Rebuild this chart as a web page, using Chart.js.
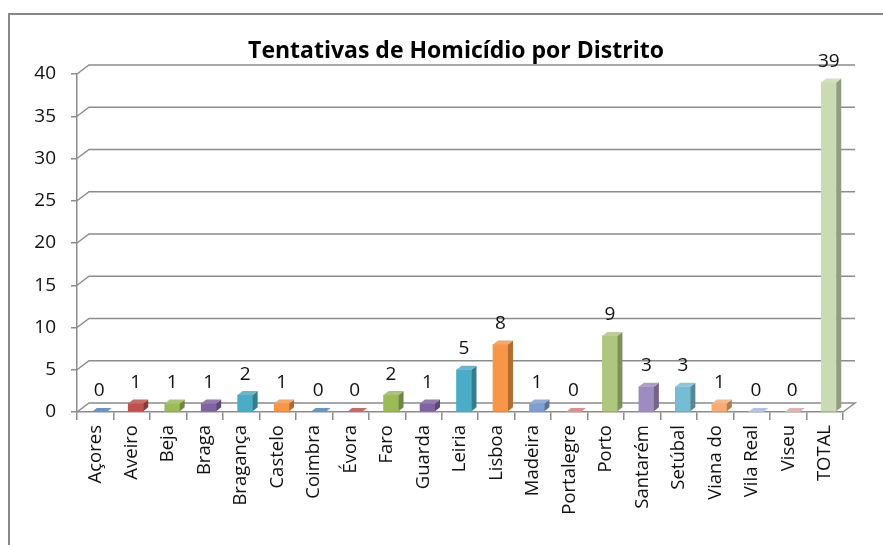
<!DOCTYPE html>
<html>
<head>
<meta charset="utf-8">
<script src="https://cdn.jsdelivr.net/npm/chart.js@4.4.1/dist/chart.umd.min.js"></script>
<style>
  html, body { margin: 0; padding: 0; background: #fff; }
  canvas { display: block; }
</style>
</head>
<body>
<canvas id="chart" width="883" height="545"></canvas>
<script>
// Chart data
const districts = ['Açores', 'Aveiro', 'Beja', 'Braga', 'Bragança', 'Castelo', 'Coimbra', 'Évora',
  'Faro', 'Guarda', 'Leiria', 'Lisboa', 'Madeira', 'Portalegre', 'Porto', 'Santarém', 'Setúbal',
  'Viana do', 'Vila Real', 'Viseu', 'TOTAL'];
const attempts = [0, 1, 1, 1, 2, 1, 0, 0, 2, 1, 5, 8, 1, 0, 9, 3, 3, 1, 0, 0, 39];
const yTicks = [0, 5, 10, 15, 20, 25, 30, 35, 40];
const chartTitle = 'Tentativas de Homicídio por Distrito';

const barColors = ['#4F81BD', '#C0504D', '#9BBB59', '#8064A2', '#4BACC6', '#F79646',
  '#4F81BD', '#C0504D', '#9BBB59', '#8064A2', '#4BACC6', '#F79646',
  '#7F9ED2', '#D27F7D', '#AEC77E', '#9F8CBE', '#74BDD3', '#F9AB72',
  '#A5B9DD', '#D9A6A5', '#CADAB2'];

const FONT = '"Open Sans"';
const GRID = '#8c8c8c';
const DEPTH_X = 12, DEPTH_Y = -9;   // back wall offset
const BAR_DX = 5, BAR_DY = -4;      // bar side/top depth

function shade(hex, f) {
  const n = parseInt(hex.slice(1), 16);
  const ch = [(n >> 16) & 255, (n >> 8) & 255, n & 255].map((c) =>
    f < 1 ? Math.round(c * f) : Math.round(c + (255 - c) * (f - 1)));
  return 'rgb(' + ch.join(',') + ')';
}

// Back wall, floor, bar sides and labels
const threeD = {
  id: 'threeD',
  afterDatasetsUpdate(chart) {
    chart.getDatasetMeta(0).data.forEach((el) => { el.x += 4; });
  },
  beforeDatasetsDraw(chart) {
    const { ctx, chartArea, scales } = chart;
    const y = scales.y;
    ctx.save();
    ctx.strokeStyle = GRID;
    ctx.lineWidth = 1.5;
    yTicks.forEach((v) => {
      const py = y.getPixelForValue(v);
      ctx.beginPath();
      ctx.moveTo(chartArea.left, py);
      ctx.lineTo(chartArea.left + DEPTH_X, py + DEPTH_Y);
      ctx.lineTo(chartArea.right + DEPTH_X, py + DEPTH_Y);
      if (v === 0) ctx.lineTo(chartArea.right, py);
      ctx.stroke();
    });
    ctx.restore();
  },
  afterDatasetsDraw(chart) {
    const { ctx } = chart;
    const meta = chart.getDatasetMeta(0);
    ctx.save();
    meta.data.forEach((el, i) => {
      const half = el.width / 2;
      const l = el.x - half, r = el.x + half, t = el.y, b = el.base;
      const c = barColors[i];
      // side
      if (b - t > 0.5) {
        ctx.fillStyle = shade(c, 0.72);
        ctx.beginPath();
        ctx.moveTo(r, t); ctx.lineTo(r + BAR_DX, t + BAR_DY);
        ctx.lineTo(r + BAR_DX, b + BAR_DY); ctx.lineTo(r, b);
        ctx.closePath(); ctx.fill();
      }
      // top
      ctx.fillStyle = shade(c, 1.15);
      ctx.beginPath();
      ctx.moveTo(l, t); ctx.lineTo(l + BAR_DX, t + BAR_DY);
      ctx.lineTo(r + BAR_DX, t + BAR_DY); ctx.lineTo(r, t);
      ctx.closePath(); ctx.fill();
      // value label
      ctx.fillStyle = '#111';
      ctx.font = '19px ' + FONT;
      ctx.textAlign = 'center';
      ctx.textBaseline = 'middle';
      ctx.fillText(String(attempts[i]), el.x, t - 21);
    });
    ctx.restore();
  },
  afterDraw(chart) {
    const { ctx } = chart;
    ctx.save();
    ctx.strokeStyle = '#888';
    ctx.lineWidth = 2;
    ctx.beginPath();
    ctx.moveTo(9, 545); ctx.lineTo(9, 14); ctx.lineTo(883, 14);
    ctx.stroke();
    ctx.fillStyle = '#000';
    ctx.font = 'bold 23px ' + FONT;
    ctx.textAlign = 'center';
    ctx.textBaseline = 'middle';
    ctx.fillText(chartTitle, 456, 51);
    ctx.restore();
  }
};

new Chart(document.getElementById('chart'), {
  type: 'bar',
  data: {
    labels: districts,
    datasets: [{
      data: attempts,
      backgroundColor: barColors,
      barThickness: 15,
      borderWidth: 0,
    }],
  },
  options: {
    responsive: false,
    animation: false,
    layout: { padding: { left: 0, right: 40, top: 74, bottom: 0 } },
    plugins: { legend: { display: false }, tooltip: { enabled: false } },
    scales: {
      x: {
        afterFit: (s) => { s.height = 133; },
        grid: { drawOnChartArea: false, offset: true, tickLength: 8, color: GRID, lineWidth: 1.5 },
        border: { display: true, color: GRID, width: 1.5 },
        ticks: { minRotation: 90, maxRotation: 90, padding: 5, color: '#111', font: { family: FONT, size: 18.5 } },
      },
      y: {
        min: 0, max: 40,
        afterFit: (s) => { s.width = 77; },
        afterBuildTicks: (s) => { s.ticks = yTicks.map((v) => ({ value: v })); },
        grid: { drawOnChartArea: false, tickLength: 6, color: GRID, lineWidth: 1.5 },
        border: { display: true, color: GRID, width: 1.5 },
        ticks: { padding: 15, color: '#111', font: { family: FONT, size: 19 } },
      },
    },
  },
  plugins: [threeD],
});
</script>
</body>
</html>
